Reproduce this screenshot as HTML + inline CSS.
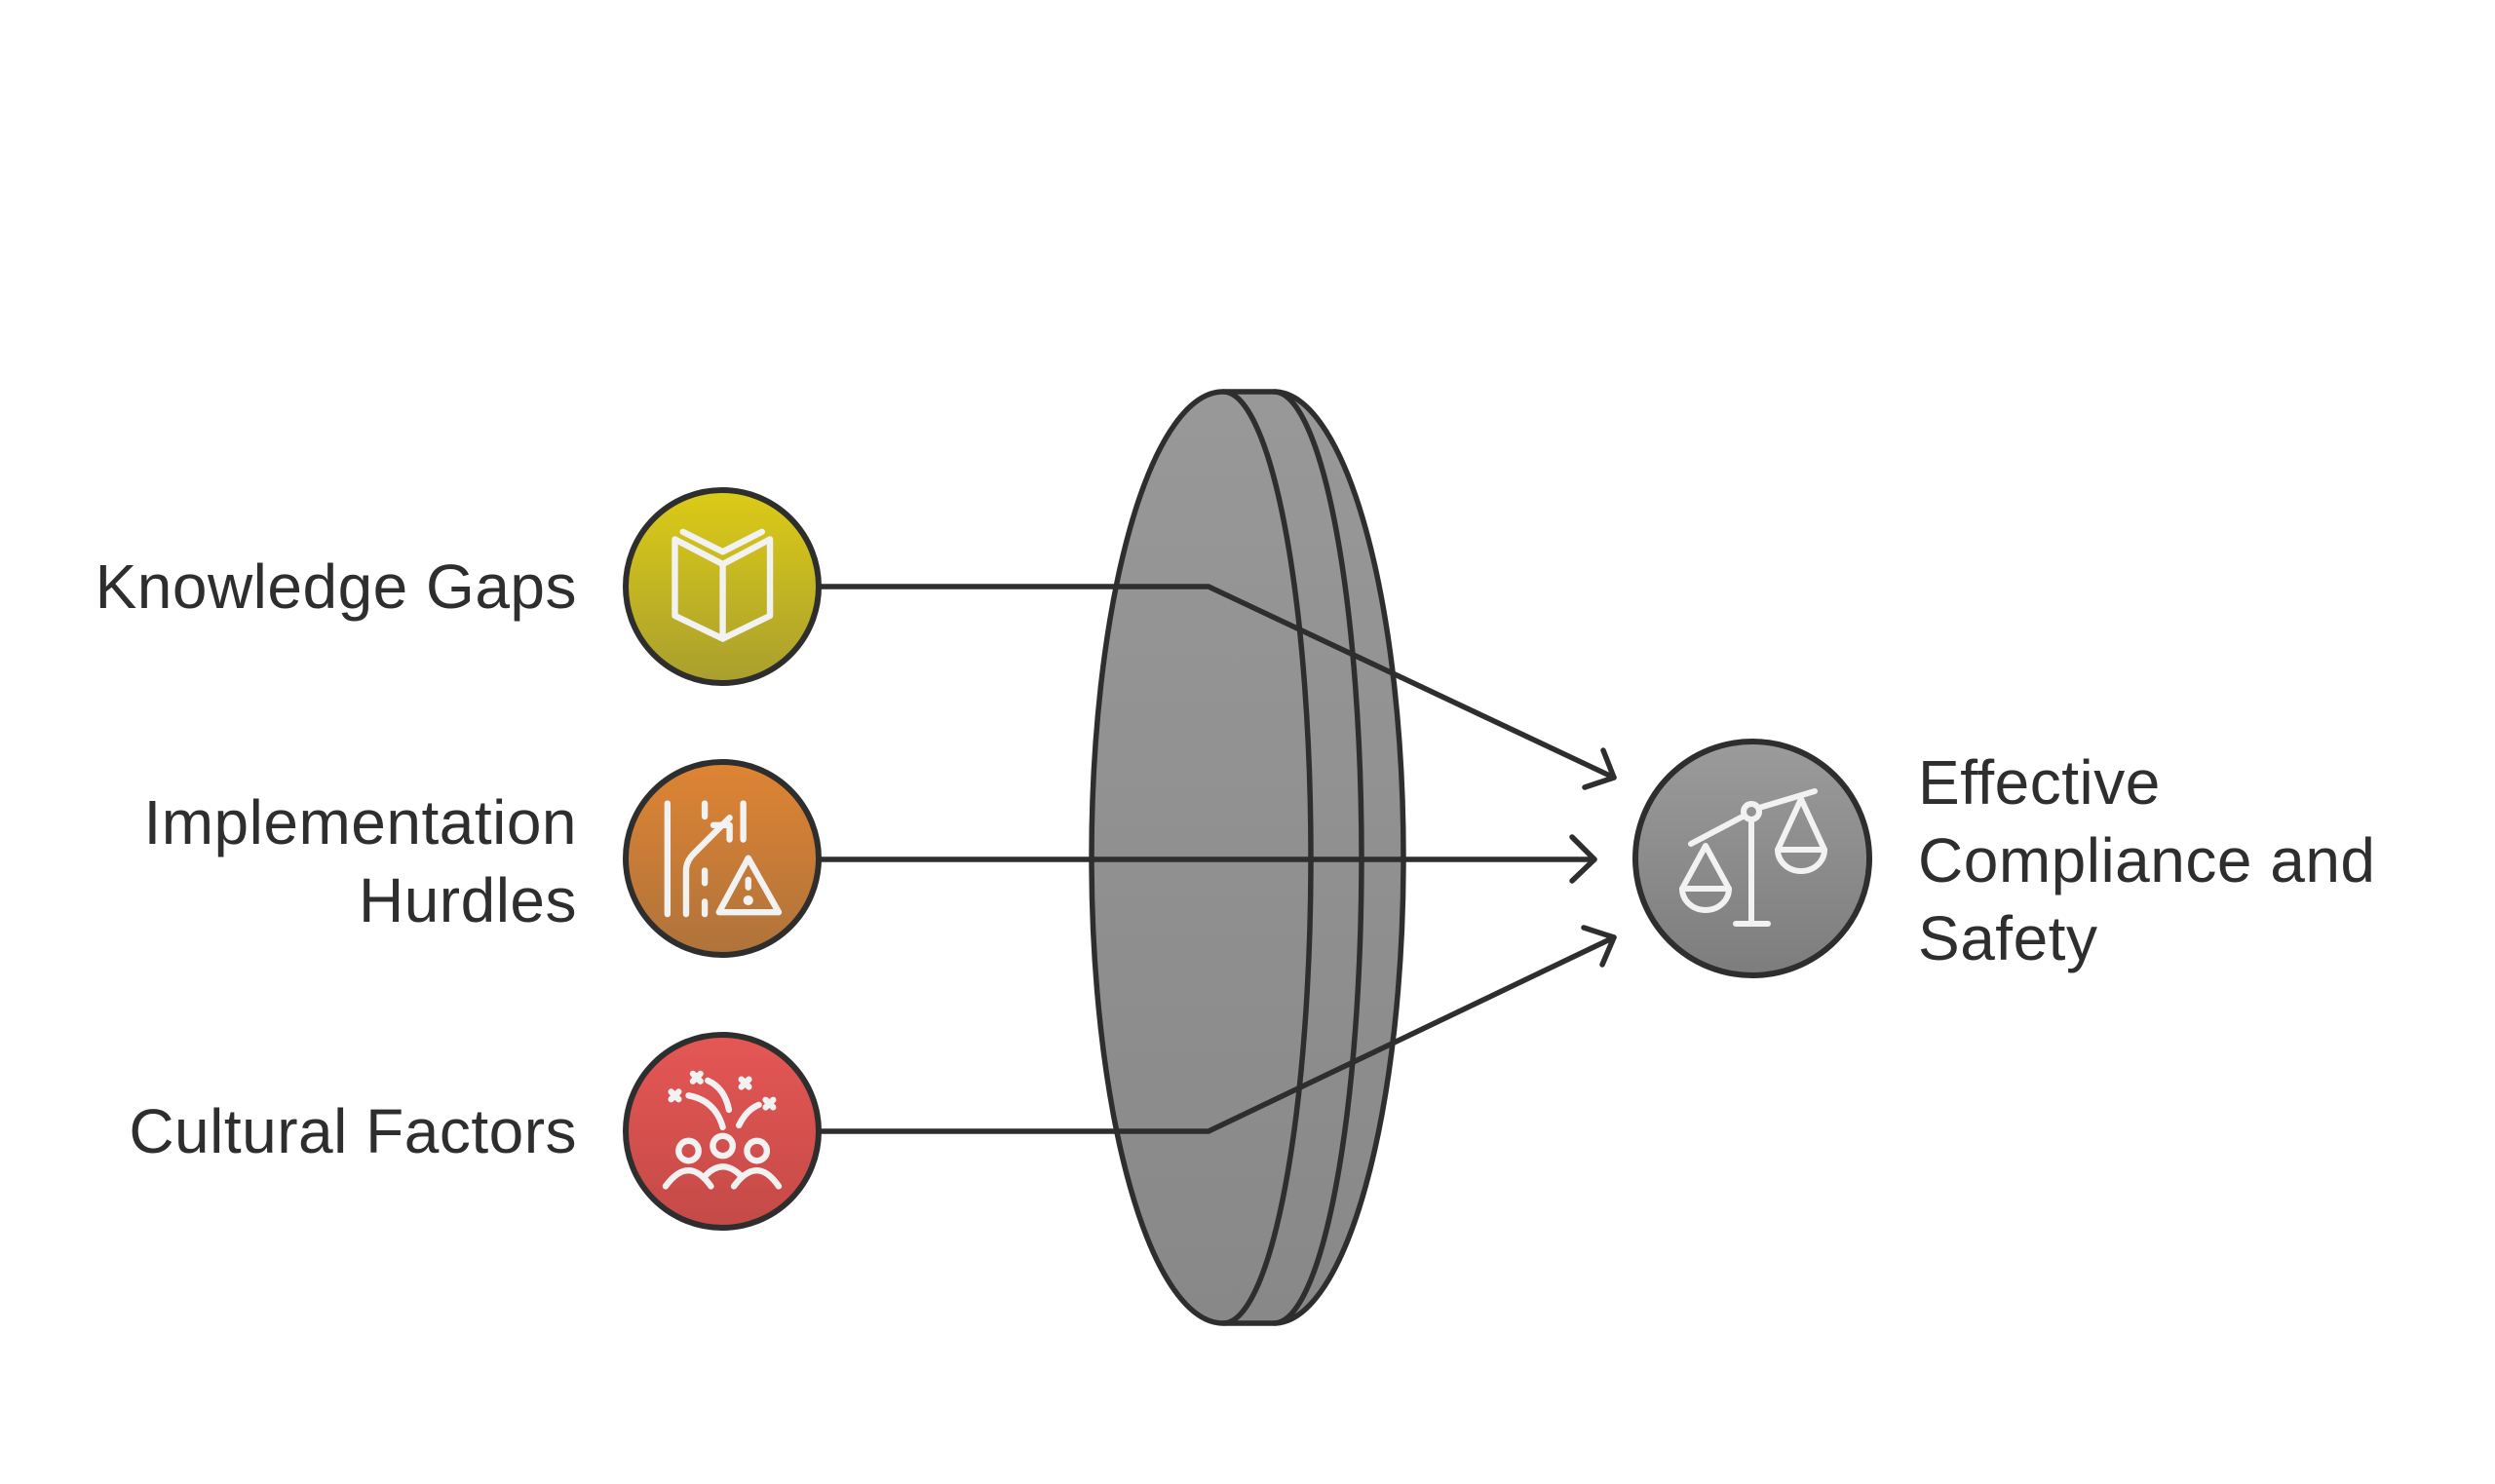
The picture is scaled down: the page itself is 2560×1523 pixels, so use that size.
<!DOCTYPE html>
<html><head><meta charset="utf-8"><style>
html,body{margin:0;padding:0;background:#fff;}
svg{display:block}
text{font-family:"Liberation Sans",sans-serif;fill:#2e2e2e;font-size:64px;letter-spacing:0.5px}
</style></head><body>
<svg width="2560" height="1523" viewBox="0 0 2560 1523" xmlns="http://www.w3.org/2000/svg">
<defs>
<linearGradient id="gy" x1="0" y1="0" x2="0" y2="1"><stop offset="0" stop-color="#dccb17"/><stop offset="1" stop-color="#a99f2e"/></linearGradient>
<linearGradient id="go" x1="0" y1="0" x2="0" y2="1"><stop offset="0" stop-color="#df8433"/><stop offset="1" stop-color="#af733b"/></linearGradient>
<linearGradient id="gr" x1="0" y1="0" x2="0" y2="1"><stop offset="0" stop-color="#e55755"/><stop offset="1" stop-color="#c44a47"/></linearGradient>
<linearGradient id="gg" x1="0" y1="0" x2="0" y2="1"><stop offset="0" stop-color="#9b9b9b"/><stop offset="1" stop-color="#7d7d7d"/></linearGradient>
<linearGradient id="gl" x1="0" y1="0" x2="0" y2="1"><stop offset="0" stop-color="#989898"/><stop offset="1" stop-color="#888888"/></linearGradient>
</defs>

<g stroke="#2e2e2e" stroke-width="5.5" fill="none" stroke-linejoin="round">
<path d="M1255,402 L1307,402 A133,478 0 0 1 1307,1358 L1255,1358 A135,478 0 0 1 1255,402 Z" fill="url(#gl)"/>
<path d="M1255,402 A90,478 0 0 1 1255,1358"/>
<path d="M1307,402 A90,478 0 0 1 1307,1358"/>
</g>

<g stroke="#2e2e2e" stroke-width="5.5" fill="none" stroke-linecap="round" stroke-linejoin="round">
<polyline points="842,602 1240,602 1656,798"/>
<polyline points="1645,770 1656,798 1626,808"/>
<line x1="842" y1="882" x2="1636" y2="882"/>
<polyline points="1613,859 1636,882 1613,904"/>
<polyline points="842,1161 1240,1161 1656,962"/>
<polyline points="1625,952 1656,962 1644,990"/>
</g>

<g stroke="#2e2e2e" stroke-width="6">
<circle cx="741" cy="602" r="99" fill="url(#gy)"/>
<circle cx="741" cy="881" r="99" fill="url(#go)"/>
<circle cx="741" cy="1161" r="99" fill="url(#gr)"/>
<circle cx="1798" cy="881" r="120" fill="url(#gg)"/>
</g>

<g transform="translate(600,380) scale(0.6378)" stroke="#f2f2f2" stroke-width="10" fill="none" stroke-linecap="round" stroke-linejoin="round">
<path d="M145,272 L222,312 L298,272 L298,395 L222,432 L145,395 Z"/>
<path d="M222,312 V432"/>
<path d="M158,260 L222,292 L285,260"/>

<path d="M133,697 V875"/>
<path d="M163,875 V805 Q163,790 175,778 L233,720"/>
<path d="M207,732 H233 V755"/>
<path d="M193,697 V718 M193,805 V825 M193,855 V875"/>
<path d="M255,697 V755"/>
<path d="M263,785 L312,872 H216 Z"/>
<path d="M263,820 V832"/>
<circle cx="263" cy="853" r="3" fill="#f2f2f2"/>

<circle cx="167" cy="1256" r="16"/>
<circle cx="222" cy="1248" r="16"/>
<circle cx="277" cy="1256" r="16"/>
<path d="M130,1313 Q167,1262 203,1313"/>
<path d="M195,1295 Q222,1268 250,1295"/>
<path d="M240,1313 Q277,1262 312,1313"/>
<path d="M167,1167 Q210,1175 222,1218"/>
<path d="M198,1143 Q225,1155 232,1190"/>
<path d="M248,1215 Q260,1190 280,1182"/>
<path d="M139,1161 l12,12 M151,1161 l-12,12"/>
<path d="M174,1132 l12,12 M186,1132 l-12,12"/>
<path d="M252,1141 l12,12 M264,1141 l-12,12"/>
<path d="M291,1174 l12,12 M303,1174 l-12,12"/>
</g>

<g stroke="#f2f2f2" stroke-width="6" fill="none" stroke-linecap="round" stroke-linejoin="round">
<path d="M1735,866 L1790,837 M1805,829 L1862,812"/>
<circle cx="1797" cy="833" r="8"/>
<path d="M1797,841 V948"/>
<path d="M1781,948 H1814"/>
<path d="M1750,868 L1726,912 H1774 Z"/>
<path d="M1726,912 A24,22 0 0 0 1774,912"/>
<path d="M1848,820 L1824,872 H1872 Z"/>
<path d="M1824,872 A24,22 0 0 0 1872,872"/>
</g>

<text x="592" y="624" text-anchor="end">Knowledge Gaps</text>
<text x="592" y="866" text-anchor="end">Implementation</text>
<text x="592" y="946" text-anchor="end">Hurdles</text>
<text x="592" y="1183" text-anchor="end">Cultural Factors</text>
<text x="1968" y="825">Effective</text>
<text x="1968" y="905">Compliance and</text>
<text x="1968" y="985">Safety</text>
</svg>
</body></html>
